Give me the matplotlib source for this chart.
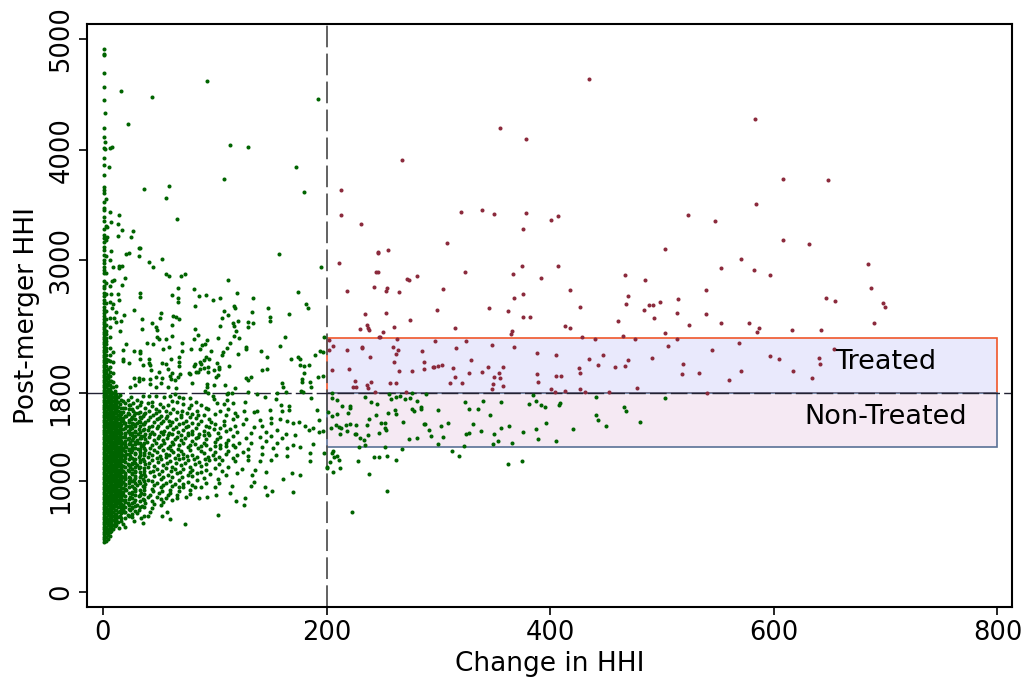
import matplotlib
matplotlib.use("Agg")
import matplotlib.pyplot as plt
from matplotlib.patches import Rectangle

x_ticks = [0, 200, 400, 600, 800]
y_ticks = [0, 1000, 1800, 3000, 4000, 5000]
threshold_x = 200
threshold_y = 1800
treated_top = 2300
control_bottom = 1310
box_right = 800

treated = [(435,4638),(355,4198),(378,4096),(267,3909),(213,3638),(213,3412),(231,3324),(320,3439),(339,3457),(350,3415),
(378,3424),(376,3282),(401,3363),(407,3402),(308,3158),(246,3071),(246,3065),(255,3089),(211,2974),(503,3098),(375,2947),(407,2950),
(244,2893),(246,2893),(324,2896),(367,2872),(467,2863),(272,2833),(274,2824),(281,2860),(392,2836),(485,2821),(242,2760),
(254,2748),(253,2721),(218,2721),(265,2715),(304,2739),(418,2727),(376,2691),(368,2661),(470,2673),(468,2604),(514,2649),
(488,2598),(492,2592),(498,2625),(484,2546),(513,2522),(427,2577),(299,2550),(345,2565),(362,2537),(234,2516),(253,2519),
(275,2462),(376,2489),(382,2483),(493,2477),(461,2447),(236,2417),(237,2387),(238,2366),(230,2378),(260,2399),(250,2354),
(315,2390),(413,2408),(418,2390),(366,2363),(365,2336),(503,2339),(247,2305),(248,2303),(428,2308),(465,2317),(263,2284),
(440,2284),(476,2284),(513,2284),(583,4276),(608,3731),(648,3722),(584,3505),(523,3411),(547,3357),(608,3182),(631,3146),
(571,3010),(684,2965),(553,2929),(582,2911),(597,2869),(539,2730),(687,2751),(647,2658),(655,2634),(698,2615),(699,2576),
(539,2510),(524,2414),(553,2429),(578,2435),(690,2435),(587,2386),(585,2347),(616,2365),(642,2371),(569,2254),(545,2187),
(654,2197),(597,2130),(605,2109),(640,2115),(641,2058),(519,2058),(518,1973),(533,1980),(571,2001),(617,1998),(560,1913),
(634,1937),(540,1802),(202,2279),(297,2273),(325,2273),(206,2221),(202,2188),(232,2218),(232,2203),(218,2188),(259,2212),
(264,2191),(285,2182),(316,2203),(348,2230),(368,2215),(262,2155),(239,2128),(388,2164),(405,2146),(447,2140),(491,2116),
(505,2227),(470,2101),(435,2104),(329,2098),(260,2083),(287,2077),(443,2056),(467,2047),(458,2034),(426,2025),(295,2031),
(296,2031),(300,2040),(303,2053),(313,2022),(344,2034),(358,2031),(205,2004),(220,2013),(265,1998),(276,1995),(287,2016),
(327,1980),(339,1986),(354,1977),(388,1974),(427,1980),(315,1944),(350,1941),(355,1932),(405,1953),(410,1953),(225,1905),
(240,1896),(257,1887),(262,1887),(310,1887),(321,1893),(349,1881),(389,1899),(236,1872),(224,1854),(226,1857),(237,1842),
(358,1860),(348,1836),(401,1836),(427,1839),(478,1848),(243,1811),(271,1811),(404,1811),(413,1820),(431,1805),(453,1811)]

control_right = [(205,1802),(256,1787),(266,1775),(276,1796),(289,1793),(385,1784),(205,1757),(209,1736),(234,1760),(262,1760),
(258,1742),(270,1745),(275,1751),(281,1730),(340,1730),(324,1721),(240,1715),(245,1703),(356,1715),(387,1727),(441,1760),
(503,1754),(409,1712),(408,1688),(381,1700),(392,1694),(395,1676),(214,1682),(221,1682),(221,1661),(284,1676),(284,1652),
(276,1652),(278,1637),(300,1643),(327,1655),(335,1655),(261,1643),(255,1622),(262,1606),(201,1628),(209,1609),(219,1615),
(205,1594),(244,1597),(346,1603),(466,1670),(468,1637),(441,1600),(443,1558),(238,1561),(268,1537),(249,1528),(252,1525),
(221,1522),(226,1513),(217,1507),(208,1507),(236,1513),(287,1516),(288,1522),(309,1531),(331,1522),(302,1498),(363,1501),
(396,1531),(450,1501),(480,1537),(204,1480),(211,1495),(213,1486),(252,1480),(253,1468),(292,1468),(356,1483),(387,1477),
(420,1471),(218,1453),(338,1453),(376,1450),(247,1441),(226,1432),(225,1426),(212,1429),(325,1426),(327,1438),(350,1429),
(237,1417),(293,1408),(304,1401),(230,1395),(233,1377),(274,1383),(281,1392),(389,1386),(353,1368),(405,1365),(300,1338),
(349,1341),(366,1344),(234,1329),(229,1314),(252,1311),(323,1323),(267,1290),(312,1272),(206,1272),(205,1254),(318,1233),
(209,1233),(207,1221),(242,1224),(247,1224),(254,1233),(262,1197),(211,1194),(203,1172),(228,1181),(375,1181),(362,1160),
(212,1121),(200,1124),(206,1082),(238,1067),(254,913),(223,720)]

control_upper = [(93,4620),(16,4533),(44,4476),(192,4455),(2,4334),(22,4229),(2,4066),(114,4039),(130,4027),(6,4018),(8,4021),
(2,4006),(5,3840),(173,3840),(108,3731),(37,3644),(59,3668),(180,3617),(56,3560),(3,3553),(6,3436),(14,3412),(66,3376),
(7,3349),(13,3327),(4,3297),(17,3276),(27,3267),(13,3219),(25,3210),(4,3207),(32,3110),(33,3108),(7,3083),(21,3059),(23,3062),
(157,3059),(32,3038),(53,3011),(6,3000),(41,2981),(9,2942),(14,2948),(14,2927),(17,2948),(45,2936),(195,2942),(56,2878),
(59,2857),(70,2857),(73,2878),(20,2842),(10,2824),(8,2815),(112,2821),(17,2776),(6,2770),(67,2746),(81,2737),(7,2694),(13,2694),
(33,2700),(33,2664),(62,2685),(67,2655),(67,2619),(86,2676),(92,2688),(98,2643),(105,2658),(120,2706),(134,2658),(174,2709),
(182,2601),(183,2565),(14,2643),(9,2604),(8,2565),(82,2583),(117,2586),(118,2568),(148,2565),(28,2547),(108,2544),(133,2535),
(12,2535),(19,2508),(52,2526),(51,2480),(166,2517),(63,2492),(65,2486),(68,2471),(112,2505),(106,2474),(149,2483),(149,2450),
(10,2480),(12,2438),(16,2453),(35,2465),(44,2435),(62,2411),(121,2450),(116,2435),(117,2408),(130,2438),(134,2432),(130,2396),
(105,2402),(35,2378),(47,2396),(48,2372),(15,2363),(82,2378),(119,2357),(85,2327),(62,2318),(117,2318),(122,2300),(163,2309),
(48,2303),(50,2291),(56,2288),(81,2288),(103,2297),(198,2303),(93,2275),(91,2245),(89,2230),(87,2197),(71,2254),(45,2239),
(39,2254),(114,2254),(21,2242),(158,2224),(128,2218),(128,2197),(79,2194),(59,2215),(54,2197),(71,2179),(18,2188),(28,2179),
(33,2182),(33,2164),(97,2179),(111,2203),(107,2167),(106,2146),(141,2176),(194,2179),(197,2173),(190,2146),(121,2152),(90,2098),
(95,2104),(92,2122),(68,2128),(68,2083),(68,2043),(147,2122),(174,2122),(176,2104),(168,2104),(33,2110),(18,2110),(18,2089),
(41,2104),(41,2074),(42,2052),(23,2074),(61,2104),(53,2074),(56,2065),(87,2083),(88,2061),(82,2061),(81,2043),(102,2067),
(104,2031),(113,2046),(176,2052),(180,2043),(184,2049),(36,2049),(43,2007),(58,2016),(62,1983),(50,1992),(47,1947),(87,2013),
(85,1992),(83,1992),(77,1983),(78,1968),(90,2028),(94,2031),(94,1992),(99,2007),(104,2016),(103,1962),(101,1947),(142,2007),
(147,2013),(180,1983),(197,1953),(192,1944),(60,1953),(61,1929),(64,1917),(67,1941),(69,1968),(53,1938),(42,1926),(132,1947),
(128,1932),(130,1917),(178,1926),(178,1896),(185,1902),(186,1857),(28,1938),(32,1938),(32,1905),(36,1923),(80,1887),(93,1881),
(93,1854),(99,1875),(109,1869),(160,1893),(161,1857),(47,1857),(52,1887),(58,1851),(65,1847),(118,1847),(42,1881),(24,1850),
(29,1869),(91,1820),(94,1802),(111,1790),(112,1796),(177,1820),(179,1805),(164,1805),(156,1802),(138,1793),(130,1805),(115,1802)]

control_cloud = [(155,1745),(145,1760),(186,1754),(98,1772),(99,1742),(102,1712),(111,1736),(108,1700),(116,1706),(127,1718),
(159,1694),(166,1685),(166,1646),(160,1640),(149,1646),(138,1640),(135,1624),(191,1646),(193,1558),(170,1531),(175,1537),
(181,1504),(184,1465),(188,1486),(193,1450),(197,1459),(188,1335),(198,1260),(200,1127),(185,1254),(185,1181),(176,1058),
(169,1079),(170,901),(161,1022),(151,913),(147,877),(145,952),(132,961),(135,992),(119,823),(127,847),(126,790),(114,898),
(103,693),(73,618),(101,874),(93,862),(86,847),(60,660),(53,690),(57,726),
(25,1760),(30,1740),(36,1770),(41,1770),(47,1775),(34,1715),(44,1720),(51,1700),(55,1765),(60,1775),(64,1790),(68,1760),
(72,1750),(78,1755),(62,1725),(66,1720),(72,1700),(79,1695),(83,1720),(88,1695),(92,1660),(58,1690),(54,1670),(44,1680),
(38,1660),(30,1670),(24,1690),(20,1710),(18,1660),(27,1640),(33,1630),(41,1640),(50,1640),(63,1655),(71,1640),(77,1660),
(84,1640),(94,1650),(105,1640),(112,1650),(118,1620),(126,1640),(120,1590),(110,1600),(100,1610),(90,1600),(80,1610),(70,1600),
(60,1615),(52,1590),(45,1600),(36,1590),(28,1600),(22,1620),(18,1570),(25,1560),(32,1550),(40,1555),(48,1560),(56,1570),(65,1565),
(74,1550),(83,1570),(95,1560),(108,1550),(116,1560),(128,1565),(140,1555),(150,1575),(158,1560),(165,1545),(150,1530),(142,1500),
(135,1490),(125,1520),(118,1500),(108,1510),(100,1520),(92,1505),(85,1515),(76,1505),(68,1520),(60,1510),(52,1525),(44,1505),
(36,1515),(28,1520),(21,1500),(24,1470),(32,1475),(40,1465),(48,1480),(55,1460),(63,1470),(72,1465),(80,1455),(90,1460),(99,1470),
(110,1455),(120,1445),(132,1440),(146,1450),(156,1465),(164,1430),(172,1420),(160,1390),(150,1410),(140,1400),(128,1395),(116,1410),
(105,1400),(95,1415),(85,1405),(76,1415),(66,1405),(58,1420),(50,1410),(42,1425),(34,1410),(26,1420),(20,1440),(22,1380),(30,1375),
(38,1385),(46,1370),(54,1375),(62,1360),(70,1375),(80,1365),(90,1350),(100,1360),(110,1345),(122,1350),(132,1345),(146,1365),(156,1350),
(170,1325),(176,1310),(165,1300),(152,1300),(142,1310),(130,1295),(118,1310),(105,1305),(96,1295),(85,1300),(76,1310),(67,1295),(58,1305),
(50,1315),(42,1300),(34,1320),(26,1310),(20,1335),(18,1280),(25,1265),(33,1270),(41,1255),(48,1265),(56,1250),(63,1265),(72,1250),
(80,1240),(90,1255),(98,1240),(110,1245),(120,1235),(130,1230),(142,1250),(155,1240),(165,1225),(150,1195),(140,1180),(130,1195),(118,1180),
(106,1195),(95,1190),(86,1175),(76,1190),(68,1200),(60,1185),(52,1200),(44,1190),(36,1205),(28,1195),(20,1215),(22,1160),(30,1145),(38,1155),
(46,1135),(54,1150),(62,1130),(70,1145),(78,1130),(88,1140),(100,1120),(112,1130),(124,1115),(136,1105),(146,1085),(133,1060),(120,1075),
(110,1055),(96,1070),(84,1080),(76,1060),(66,1075),(58,1055),(50,1070),(42,1085),(34,1060),(26,1075),(18,1095),(20,1030),(28,1015),(36,1025),
(44,1005),(52,1020),(60,1000),(68,1010),(76,995),(84,1010),(92,985),(104,985),(115,960),(100,950),(88,945),(78,925),(68,945),(60,925),(52,950),
(44,935),(36,955),(28,940),(20,965),(18,900),(26,885),(34,895),(42,880),(50,895),(58,875),(66,880),(74,860),(62,830),(52,840),(44,825),(36,840),
(28,815),(20,830),(18,770),(26,760),(35,775),(44,760),(52,790),(30,715),(22,700),(40,690),(16,640),(28,640),(36,620),(14,575),(20,590)]

dense_fill = [(22,1735),(27,1712),(33,1690),(40,1705),(47,1650),(56,1638),(23,1655),(31,1615),(38,1622),(47,1618),(57,1595),(66,1630),(75,1622),(85,1598),
(21,1590),(26,1575),(34,1575),(42,1585),(50,1575),(59,1545),(70,1580),(78,1582),(88,1545),(23,1540),(30,1525),(38,1535),(46,1540),(54,1545),(62,1535),(72,1528),(80,1532),(97,1535),
(19,1525),(25,1500),(33,1498),(41,1490),(49,1500),(57,1488),(65,1495),(74,1488),(83,1485),(95,1490),(105,1480),(114,1478),(22,1455),(29,1450),(36,1462),(44,1445),(52,1448),(59,1440),
(67,1445),(76,1440),(86,1432),(94,1440),(103,1435),(24,1430),(31,1432),(38,1430),(46,1425),(54,1428),(62,1425),(70,1422),(80,1425),(90,1415),(20,1400),(27,1395),(34,1392),(41,1398),
(49,1390),(57,1395),(64,1385),(73,1395),(83,1388),(92,1380),(102,1385),(112,1375),(24,1355),(31,1350),(39,1360),(47,1345),(55,1350),(63,1340),(72,1350),(82,1340),(92,1325),(105,1330),
(116,1325),(21,1310),(29,1335),(36,1330),(44,1328),(52,1330),(60,1322),(68,1328),(78,1330),(88,1318),(100,1318),(110,1322),(23,1290),(31,1295),(38,1285),(46,1285),(54,1280),(61,1285),
(70,1275),(78,1282),(88,1275),(100,1270),(112,1272),(125,1268),(21,1245),(29,1245),(37,1240),(44,1238),(51,1232),(59,1235),(67,1238),(75,1228),(84,1222),(94,1220),(104,1218),(116,1210),
(24,1225),(32,1218),(40,1222),(48,1215),(56,1218),(64,1212),(72,1215),(81,1205),(91,1200),(100,1200),(19,1180),(26,1170),(33,1178),(41,1170),(49,1172),(57,1168),(65,1165),(73,1168),(82,1155),
(92,1160),(104,1155),(24,1130),(32,1120),(40,1130),(48,1115),(56,1125),(64,1108),(72,1115),(80,1105),(92,1105),(106,1095),(22,1105),(29,1095),(37,1092),(45,1098),(53,1090),(61,1092),(69,1088),
(78,1085),(88,1088),(20,1060),(29,1050),(38,1045),(46,1050),(54,1042),(62,1038),(71,1040),(80,1045),(90,1030),(103,1025),(24,1030),(32,1000),(40,1010),(48,985),(56,985),(64,975),(72,975),(80,968),
(23,985),(30,970),(38,975),(46,965),(54,965),(62,958),(72,948),(82,950),(21,925),(29,915),(37,920),(45,910),(53,915),(60,898),(68,910),(78,890),(24,860),(32,865),(40,855),(48,860),(56,850),(66,850),
(22,800),(30,790),(38,805),(46,795),(54,810),(24,740),(32,745),(42,725),(19,720),(26,680),(34,665),(18,615)]

stripe_1 = [4907,4862,4856,4690,4563,4449,4192,4117,4018,3927,3858,3770,3665,3635,3605,3523,3469,3454,3394,3352,3282,3228,3198,3168,
3122,3092,3047,3002,2972,2942,2912,2881,2815,2770,2746,2700,2672,2640,2612,2580,2552,2522,2495,2466,2438,2420,2398,2374,2352,2329,
2306,2283,2260,2238,2215,2192,2170,2147,2124,2102,2079,2056,2034,2011,1988,1966,1943,1920,1898,1875,1853,1830,1808,1785,1762,1740,
1717,1695,1672,1650,1627,1604,1582,1559,1537,1514,1492,1469,1447,1424,1401,1379,1356,1334,1311,1289,1266,1244,1221,1199,1176,1154,
1131,1108,1086,1063,1041,1018,996,973,951,928,905,883,860,838,815,793,770,748,725,702,680,657,635,612,590,567,545,522,500,477,455]
stripe_3 = [3310,3180,3040,2880,2790,2690,2610,2540,2470,2415,2360,2330,2300,2270,2240,2205,2175,2140,2110,2075,2045,2010,1980,1945,
1915,1885,1850,1820,1790,1760,1730,1700,1670,1640,1610,1580,1550,1520,1490,1460,1430,1400,1370,1340,1310,1280,1250,1220,1190,1160,
1130,1100,1070,1040,1010,980,950,920,890,860,830,800,770,740,710,680,650,620,590,560,530,500,465]
stripe_6 = [2620,2480,2400,2310,2210,2140,2090,2030,1985,1950,1910,1870,1830,1795,1760,1730,1700,1665,1635,1605,1570,1540,1510,1480,1450,
1420,1390,1360,1330,1300,1270,1240,1210,1180,1150,1120,1090,1060,1030,1000,970,940,910,880,850,820,790,760,730,700,670,640,610,575,540,505]
stripe_9 = [2170,2080,1980,1900,1850,1800,1765,1730,1695,1660,1630,1600,1570,1540,1510,1480,1450,1420,1390,1360,1330,1300,1270,1240,1210,
1180,1150,1120,1090,1060,1030,1000,970,940,910,880,850,820,790,760,725,690,650,610,565]
stripe_12 = [1860,1790,1740,1690,1650,1615,1580,1545,1515,1480,1450,1420,1390,1360,1330,1300,1270,1240,1210,1180,1150,1120,1090,1060,1030,
1000,970,940,910,880,850,820,785,745,700,650,610]
stripe_15 = [1780,1700,1630,1580,1530,1490,1455,1415,1380,1345,1310,1275,1240,1205,1170,1135,1100,1065,1030,995,960,925,890,855,815,775,730,685]
stripe_18 = [1730,1625,1545,1470,1405,1345,1300,1240,1190,1135,1090,1040,990,940,880,835,790,745]
stripe_4 = [2095,2020,1965,1932,1900,1868,1835,1805,1775,1745,1715,1685,1652,1622,1592,1562,1532,1502,1472,1442,1412,1382,1352,1322,1292,1262,1232,1202,1172,1142,
1112,1082,1052,1022,992,962,932,902,872,842,812,782,752,722,692,662,632,602,572,545,515,480]
stripe_7 = [1905,1850,1812,1778,1745,1712,1682,1652,1620,1590,1560,1528,1498,1468,1438,1408,1378,1348,1318,1288,1258,1228,1198,1168,1138,1108,1078,1048,1018,988,958,928,898,868,838,808,778,748,715,682,650,620,590,555]
stripe_10 = [1820,1775,1745,1710,1678,1645,1615,1585,1555,1525,1495,1465,1435,1405,1375,1345,1315,1285,1255,1225,1195,1165,1135,1105,1075,1045,1015,985,955,925,895,865,835,805,775,740,705,672,635,598]
stripe_13 = [1765,1720,1670,1635,1598,1562,1530,1498,1465,1435,1405,1375,1345,1315,1285,1255,1225,1195,1165,1135,1105,1075,1045,1015,985,955,925,895,865,835,800,765,722,680,630]
stripe_16 = [1735,1665,1605,1555,1510,1472,1435,1398,1362,1328,1292,1258,1222,1188,1152,1118,1082,1048,1012,978,942,908,872,838,795,755,710,665]
stripe_20 = [1665,1590,1525,1482,1425,1368,1322,1272,1232,1178,1128,1075,1022,975,928,872,815,768,725,665]
stripe_23 = [1690,1612,1558,1498,1445,1395,1340,1288,1248,1198,1148,1090,1042,1000,945,895,840,785,752,690]
stripe_26 = [1652,1585,1530,1480,1435,1375,1330,1280,1215,1160,1115,1065,1005,960,905,850,800,770,705]
stripe_29 = [1620,1562,1505,1460,1410,1358,1305,1258,1205,1170,1128,1082,1030,985,930,880,830,780,730]
stripe_33 = [1585,1535,1450,1395,1345,1292,1235,1195,1130,1085,1040,985,925,875,825,765]
stripe_37 = [1605,1520,1470,1410,1350,1305,1260,1185,1125,1070,1000,945,890,830,770,690]

stripes = {1: stripe_1, 3: stripe_3, 4.5: stripe_4, 6: stripe_6, 7.5: stripe_7, 9: stripe_9, 10.5: stripe_10, 12: stripe_12,
           13.5: stripe_13, 15: stripe_15, 16.5: stripe_16, 18: stripe_18, 20: stripe_20, 23: stripe_23, 26: stripe_26,
           29: stripe_29, 33: stripe_33, 37: stripe_37}

green = "#006400"
red = "#8B2A3C"

fig = plt.figure(figsize=(10.26, 6.82), dpi=100)
ax = fig.add_axes([87/1026, 1 - 607/682, (1012 - 87)/1026, (607 - 24)/682])

ax.add_patch(Rectangle((threshold_x, threshold_y), box_right - threshold_x, treated_top - threshold_y,
                       facecolor="#E9E9FC", edgecolor="#F0562A", lw=1.2, zorder=1))
ax.add_patch(Rectangle((threshold_x, control_bottom), box_right - threshold_x, threshold_y - control_bottom,
                       facecolor="#F5E9F3", edgecolor="#5A7196", lw=1.2, zorder=1))

msize = 8.5
for col_x, col_y in stripes.items():
    ax.scatter([col_x] * len(col_y), col_y, s=msize, c=green, lw=0, zorder=3)
for pts in (control_upper, control_cloud, dense_fill, control_right):
    xs, ys = zip(*pts)
    ax.scatter(xs, ys, s=msize, c=green, lw=0, zorder=3)
xs, ys = zip(*treated)
ax.scatter(xs, ys, s=msize, c=red, lw=0, zorder=3)

ax.axvline(threshold_x, color="#555555", lw=1.3, dashes=(12, 3.5), zorder=2)
ax.axhline(threshold_y, color="#222233", lw=1.0, dashes=(12, 3), zorder=2)

ax.text(700, 2078, "Treated", fontsize=19.5, ha="center", va="center", zorder=4)
ax.text(700, 1585, "Non-Treated", fontsize=19.5, ha="center", va="center", zorder=4)

ax.set_xlim(-14.3, 813)
ax.set_ylim(-136, 5136)
ax.set_xticks(x_ticks)
ax.set_yticks(y_ticks)
ax.tick_params(axis="both", labelsize=18.5, length=6, width=1.2, pad=3)
for lab in ax.get_yticklabels():
    lab.set_rotation(90)
    lab.set_va("center")
ax.set_xlabel("Change in HHI", fontsize=19, labelpad=4)
ax.set_ylabel("Post-merger HHI", fontsize=19, labelpad=6)
for s in ax.spines.values():
    s.set_linewidth(1.5)

fig.savefig("out.png", dpi=100)
